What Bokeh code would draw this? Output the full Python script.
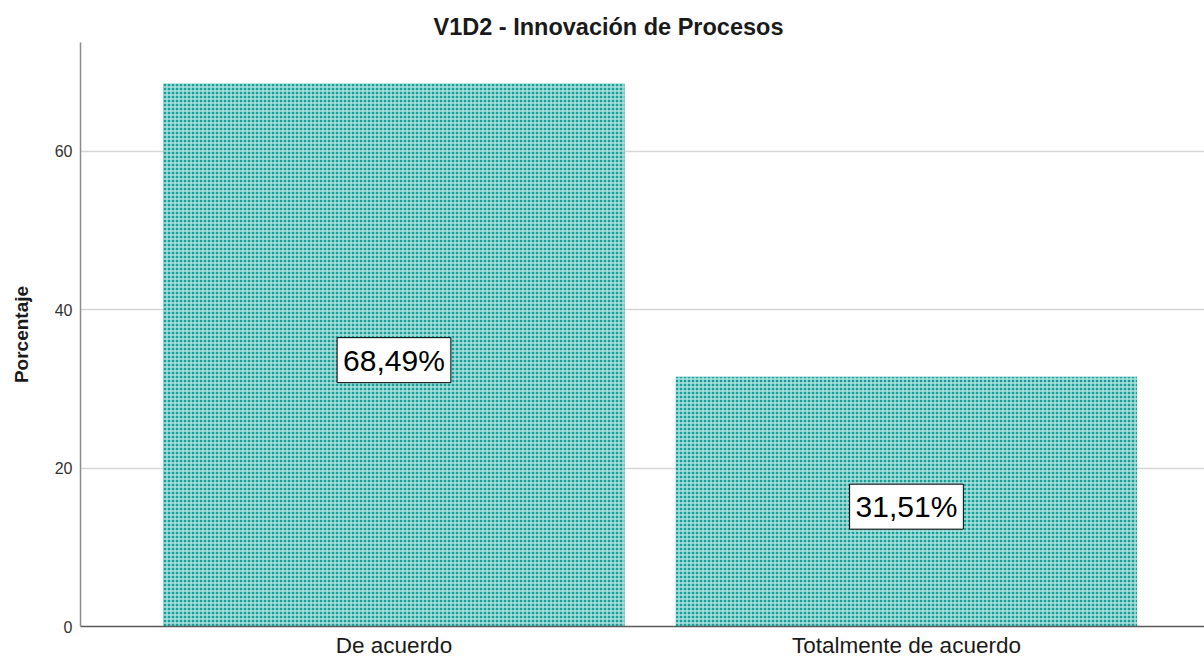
from bokeh.plotting import figure
from bokeh.models import Range1d, FixedTicker, Label
from bokeh.embed import file_html
from bokeh.resources import INLINE

title_text = "V1D2 - Innovación de Procesos"
y_label = "Porcentaje"
categories = ["De acuerdo", "Totalmente de acuerdo"]
percentages = [68.49, 31.51]
y_ticks = [0, 20, 40, 60]

xs = [i + 0.5 for i in range(len(categories))]

p = figure(width=1204, height=660, output_backend="svg", toolbar_location=None,
           x_range=Range1d(-0.1117, 2.0815), y_range=Range1d(0, 73.7),
           min_border_left=80, min_border_right=0, min_border_top=42, min_border_bottom=34)
p.outline_line_color = None
p.background_fill_color = "white"

p.title.text = title_text
p.title.align = "left"
p.title.offset = 353
p.title.text_font = "Liberation Sans"
p.title.text_font_size = "23.5px"
p.title.text_font_style = "bold"
p.title.text_color = "#1a1a1a"
p.title.standoff = 6

p.vbar(x=xs, top=percentages, width=0.9, fill_color="#12a09a", line_color=None,
       hatch_pattern="cross", hatch_scale=4, hatch_weight=1.4, hatch_color="#b3e1de")

for x, v in zip(xs, percentages):
    txt = f"{v:.2f}".replace(".", ",") + "%"
    p.add_layout(Label(x=x, y=v / 2, y_offset=-5, text=txt, text_align="center",
                       text_baseline="middle",
                       text_font="Liberation Sans", text_font_size="30px", text_color="black",
                       background_fill_color="white", border_line_color="black",
                       border_line_width=1, padding=6))

p.xaxis.ticker = FixedTicker(ticks=xs)
p.xaxis.major_label_overrides = {x: c for x, c in zip(xs, categories)}
p.xaxis.major_label_text_font = "Liberation Sans"
p.xaxis.major_label_text_font_size = "22.5px"
p.xaxis.major_label_text_color = "#1a1a1a"
p.xaxis.major_tick_line_color = None
p.xaxis.major_tick_out = 0
p.xaxis.major_tick_in = 0
p.xaxis.minor_tick_line_color = None
p.xaxis.minor_tick_out = 0
p.xaxis.major_label_standoff = 6
p.xaxis.axis_label_standoff = 0
p.xaxis.axis_line_color = "#5a5a5a"
p.xaxis.axis_line_width = 1.5

p.yaxis.ticker = FixedTicker(ticks=y_ticks)
p.yaxis.axis_label = y_label
p.yaxis.axis_label_text_font = "Liberation Sans"
p.yaxis.axis_label_text_font_size = "19px"
p.yaxis.axis_label_text_font_style = "bold"
p.yaxis.axis_label_text_color = "#1a1a1a"
p.yaxis.axis_label_standoff = 20
p.yaxis.major_label_text_font = "Liberation Sans"
p.yaxis.major_label_text_font_size = "16px"
p.yaxis.major_label_text_color = "#333333"
p.yaxis.major_tick_line_color = None
p.yaxis.major_tick_out = 0
p.yaxis.major_tick_in = 0
p.yaxis.minor_tick_line_color = None
p.yaxis.minor_tick_out = 0
p.yaxis.major_label_standoff = 8
p.yaxis.axis_line_color = "#8c8c8c"
p.yaxis.axis_line_width = 1.5

p.xgrid.grid_line_color = None
p.ygrid.ticker = FixedTicker(ticks=y_ticks[1:])
p.ygrid.grid_line_color = "#d6d6d6"
p.ygrid.grid_line_width = 1.5

open("out.html", "w").write(file_html(p, INLINE))
